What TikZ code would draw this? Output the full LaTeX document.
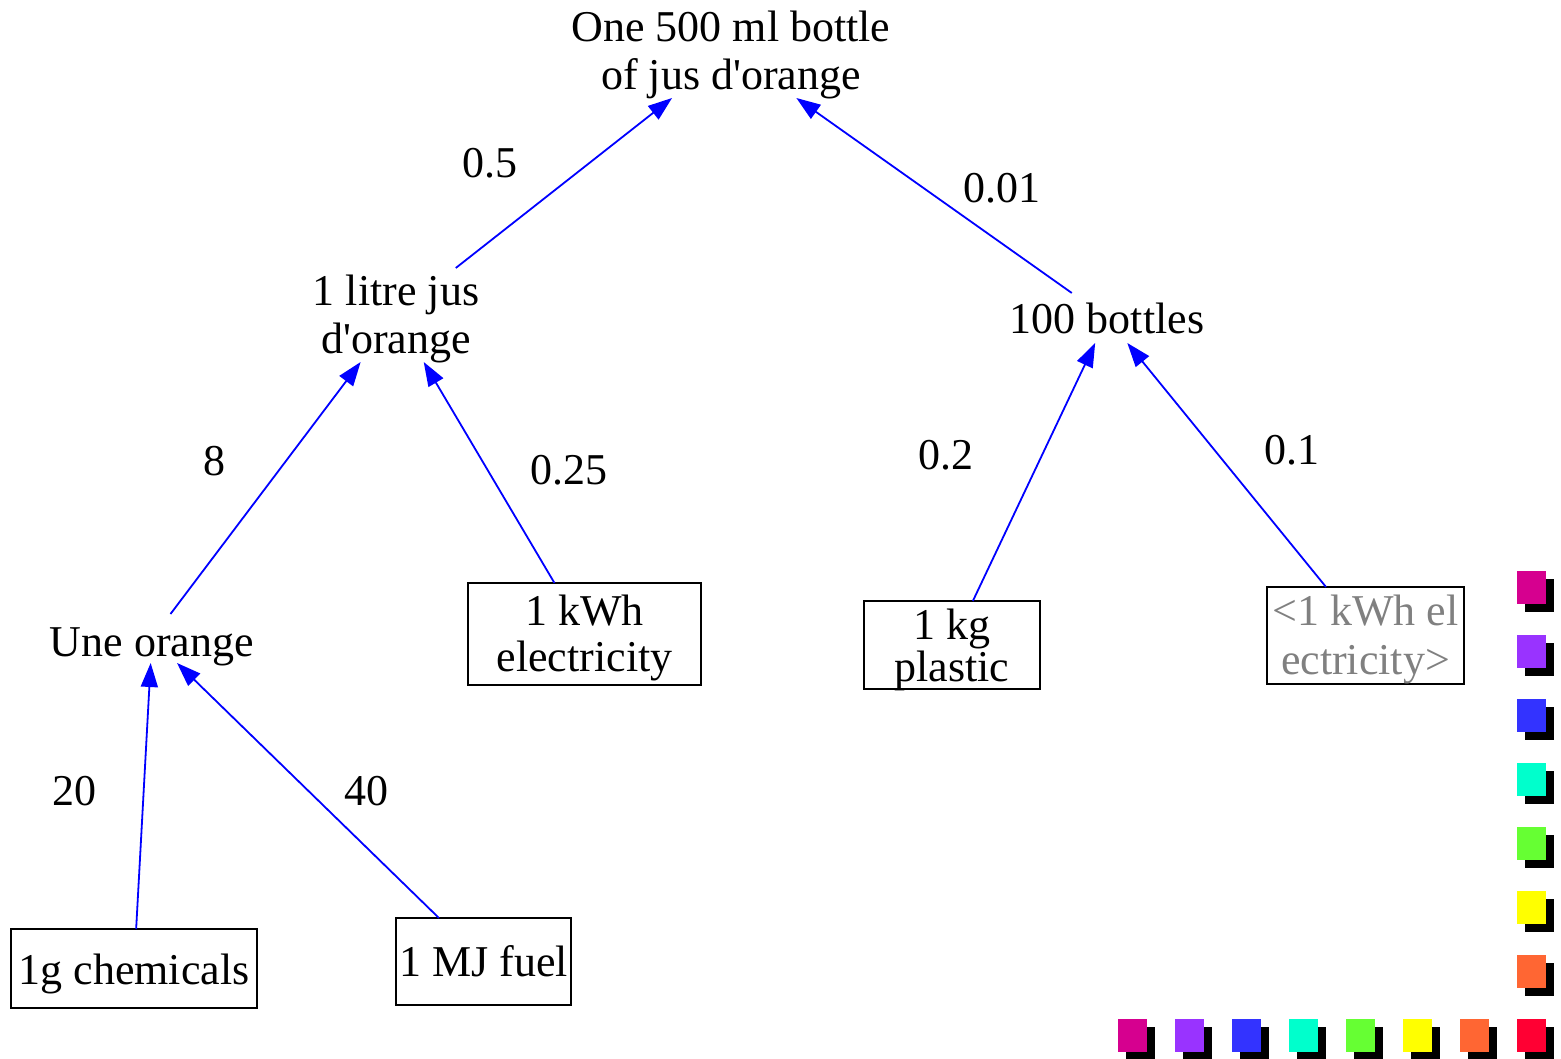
\documentclass[tikz,border=0pt]{standalone}
\usepackage{fontspec}
\setmainfont{Liberation Serif}[Ligatures=TeXOff]
\usetikzlibrary{arrows.meta}
\definecolor{swMagenta}{HTML}{D6008F}
\definecolor{swPurple}{HTML}{9933FF}
\definecolor{swBlue}{HTML}{3333FF}
\definecolor{swCyan}{HTML}{00FFCC}
\definecolor{swGreen}{HTML}{66FF33}
\definecolor{swYellow}{HTML}{FFFF00}
\definecolor{swOrange}{HTML}{FF6633}
\definecolor{swRed}{HTML}{FF0033}
\definecolor{dimtext}{HTML}{808080}
\begin{document}
\begin{tikzpicture}[x=1pt,y=-1pt,
  txt/.style={inner sep=0pt, outer sep=0pt, align=center, rectangle,
    font=\fontsize{44}{48}\selectfont},
  % single line: baseline #1 below the node centre
  oneline/.style={text height={4pt+2*#1}, text depth=4pt},
  oneline/.default=15pt,
  % two lines: last baseline placed #1 below the node centre
  twoline/.style={text height={4pt+2*#1}, text depth=4pt},
  item/.style={txt, draw=black, line width=2pt},
  flow/.style={draw=blue, line width=1.8pt,
    -{Triangle[length=24pt,width=17pt]}},
  qty/.style={inner sep=0pt, font=\fontsize{44}{48}\selectfont},
]
\useasboundingbox (0,0) rectangle (1561,1059);

% process nodes
\node[txt, twoline=38.5pt, minimum width=330pt, minimum height=93pt] (bottle) at (731,51.5)
  {One 500 ml bottle\\of jus d'orange};
\node[txt, twoline=38.5pt, minimum width=180pt, minimum height=94pt] (litre) at (396,315)
  {1 litre jus\\d'orange};
\node[txt, oneline=16pt, minimum width=200pt, minimum height=50pt] (hundred) at (1107,318)
  {100 bottles};
\node[txt, oneline=18pt, minimum width=210pt, minimum height=49pt] (orange) at (152,638.5)
  {Une orange};

% input boxes
\node[item, twoline=37pt, minimum width=233pt, minimum height=102pt,
  font=\fontsize{44}{46}\selectfont] (kwh) at (584.5,634)
  {1 kWh\\electricity};
\node[item, twoline=36pt, minimum width=176pt, minimum height=88pt,
  font=\fontsize{44}{40}\selectfont] (plastic) at (952,645)
  {1 kg\\plastic};
\node[item, twoline=38.5pt, minimum width=197pt, minimum height=97pt,
  font=\fontsize{44}{49}\selectfont, text=dimtext] (elec) at (1365.5,635.5)
  {<1 kWh el\\ectricity>};
\node[item, oneline=16pt, minimum width=246pt, minimum height=79pt] (chem) at (134,968.5)
  {1g chemicals};
\node[item, oneline, minimum width=175pt, minimum height=87pt] (fuel) at (483.5,961.5)
  {1 MJ fuel};

% flows
\draw[flow] (litre) -- (bottle);
\draw[flow] (hundred) -- (bottle);
\draw[flow] (orange) -- (litre);
\draw[flow] (kwh) -- (litre);
\draw[flow] (plastic) -- (hundred);
\draw[flow] (elec) -- (hundred);
\draw[flow] (chem) -- (orange);
\draw[flow] (fuel) -- (orange);

% quantities
\node[qty] (q1) at (490,163) {0.5};
\node[qty] (q2) at (1002,188) {0.01};
\node[qty] (q3) at (214,461) {8};
\node[qty] (q4) at (569,470) {0.25};
\node[qty] (q5) at (946,455) {0.2};
\node[qty] (q6) at (1292,450) {0.1};
\node[qty] (q7) at (74,791) {20};
\node[qty] (q8) at (366,791) {40};

% colour swatches with drop shadows
\foreach \c [count=\i from 0] in {swMagenta,swPurple,swBlue,swCyan,swGreen,swYellow,swOrange} {
  \fill[black] (1525,579+64*\i) rectangle ++(29,33);
  \fill[\c] (1517,571+64*\i) rectangle ++(29,33);
}
\foreach \c [count=\i from 0] in {swMagenta,swPurple,swBlue,swCyan,swGreen,swYellow,swOrange,swRed} {
  \fill[black] (1126+57*\i,1027) rectangle ++(29,33);
  \fill[\c] (1118+57*\i,1019) rectangle ++(29,33);
}
\end{tikzpicture}
\end{document}
